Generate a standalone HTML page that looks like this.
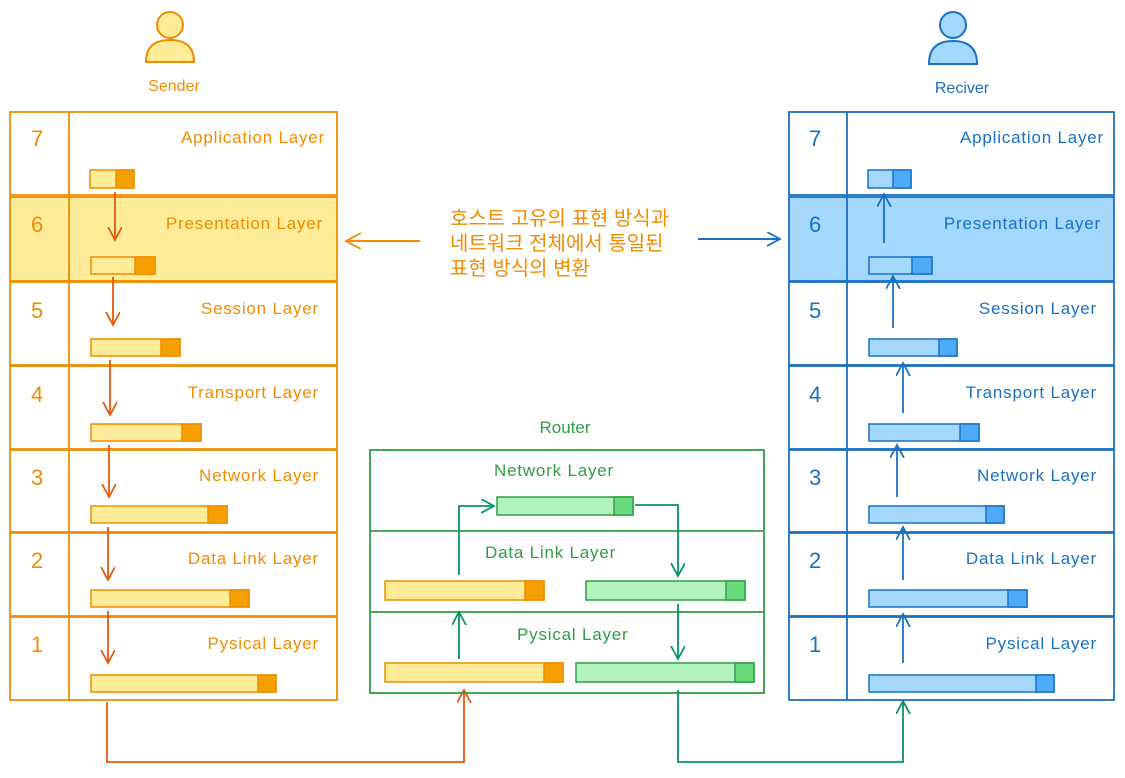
<!DOCTYPE html>
<html><head><meta charset="utf-8"><style>
html,body{margin:0;padding:0;background:#fff;}
svg text{font-family:"Liberation Sans","Noto Sans CJK KR",sans-serif;}
</style></head><body>
<svg width="1125" height="773" viewBox="0 0 1125 773" xmlns="http://www.w3.org/2000/svg">
<defs>
<marker id="ao" markerWidth="16" markerHeight="16" refX="13" refY="7" orient="auto" markerUnits="userSpaceOnUse"><path d="M0,0 L13,7 L0,14" fill="none" stroke="#e8590c" stroke-width="1.8"/></marker>
<marker id="ab" markerWidth="16" markerHeight="16" refX="13" refY="7" orient="auto" markerUnits="userSpaceOnUse"><path d="M0,0 L13,7 L0,14" fill="none" stroke="#1971c2" stroke-width="1.8"/></marker>
<marker id="ag" markerWidth="16" markerHeight="16" refX="13" refY="7" orient="auto" markerUnits="userSpaceOnUse"><path d="M0,0 L13,7 L0,14" fill="none" stroke="#099268" stroke-width="1.8"/></marker>
<marker id="aor" markerWidth="18" markerHeight="18" refX="15" refY="8" orient="auto" markerUnits="userSpaceOnUse"><path d="M0,0 L15,8 L0,16" fill="none" stroke="#f08c00" stroke-width="1.8"/></marker>
</defs>

<g fill="#ffec99" stroke="#f08c00" stroke-width="2">
<circle cx="170" cy="25" r="13"/>
<path d="M146,62 Q146,40 170,40 Q194,40 194,62 Z"/>
</g>
<text x="174" y="91" font-size="16" fill="#f08c00" text-anchor="middle">Sender</text>
<g fill="#a5d8ff" stroke="#1971c2" stroke-width="2">
<circle cx="953" cy="25" r="13"/>
<path d="M929,64 Q929,41 953,41 Q977,41 977,64 Z"/>
</g>
<text x="962" y="93" font-size="16" fill="#1971c2" text-anchor="middle">Reciver</text>

<g stroke="#f08c00" stroke-width="1.8" fill="none">
<rect x="10" y="112" width="327" height="83"/>
<rect x="10" y="197" width="327" height="84" fill="#ffec99"/>
<rect x="10" y="282" width="327" height="83"/>
<rect x="10" y="366" width="327" height="83"/>
<rect x="10" y="450" width="327" height="82"/>
<rect x="10" y="533" width="327" height="83"/>
<rect x="10" y="617" width="327" height="83"/>
<line x1="69" y1="112" x2="69" y2="700"/>
</g>
<g fill="#f08c00" font-size="22">
<text x="31" y="146">7</text><text x="31" y="232">6</text><text x="31" y="318">5</text>
<text x="31" y="402">4</text><text x="31" y="485">3</text><text x="31" y="568">2</text><text x="31" y="652">1</text>
</g>
<g fill="#f08c00" font-size="17" text-anchor="end" letter-spacing="0.8">
<text x="325" y="143">Application Layer</text>
<text x="323" y="229">Presentation Layer</text>
<text x="319" y="314">Session Layer</text>
<text x="319" y="398">Transport Layer</text>
<text x="319" y="481">Network Layer</text>
<text x="319" y="564">Data Link Layer</text>
<text x="319" y="649">Pysical Layer</text>
</g>
<g stroke="#f08c00" stroke-width="1.5">
<rect x="90" y="170" width="44" height="18" fill="#ffec99"/><rect x="116" y="170" width="18" height="18" fill="#f59f00"/>
<rect x="91" y="257" width="64" height="17" fill="#ffec99"/><rect x="135" y="257" width="20" height="17" fill="#f59f00"/>
<rect x="91" y="339" width="89" height="17" fill="#ffec99"/><rect x="161" y="339" width="19" height="17" fill="#f59f00"/>
<rect x="91" y="424" width="110" height="17" fill="#ffec99"/><rect x="182" y="424" width="19" height="17" fill="#f59f00"/>
<rect x="91" y="506" width="136" height="17" fill="#ffec99"/><rect x="208" y="506" width="19" height="17" fill="#f59f00"/>
<rect x="91" y="590" width="158" height="17" fill="#ffec99"/><rect x="230" y="590" width="19" height="17" fill="#f59f00"/>
<rect x="91" y="675" width="185" height="17" fill="#ffec99"/><rect x="258" y="675" width="18" height="17" fill="#f59f00"/>
</g>
<g stroke="#e8590c" stroke-width="1.8" fill="none" marker-end="url(#ao)">
<line x1="115" y1="192" x2="115" y2="240"/>
<line x1="113" y1="277" x2="113" y2="325"/>
<line x1="110" y1="360" x2="110" y2="415"/>
<line x1="109" y1="445" x2="109" y2="497"/>
<line x1="108" y1="527" x2="108" y2="580"/>
<line x1="108" y1="611" x2="108" y2="663"/>
<polyline points="107,702 107,762 464,762 464,690"/>
</g>

<g stroke="#1971c2" stroke-width="1.8" fill="none">
<rect x="789" y="112" width="325" height="83"/>
<rect x="789" y="197" width="325" height="84" fill="#a5d8ff"/>
<rect x="789" y="282" width="325" height="83"/>
<rect x="789" y="366" width="325" height="83"/>
<rect x="789" y="450" width="325" height="82"/>
<rect x="789" y="533" width="325" height="83"/>
<rect x="789" y="617" width="325" height="83"/>
<line x1="847" y1="112" x2="847" y2="700"/>
</g>
<g fill="#1971c2" font-size="22">
<text x="809" y="146">7</text><text x="809" y="232">6</text><text x="809" y="318">5</text>
<text x="809" y="402">4</text><text x="809" y="485">3</text><text x="809" y="568">2</text><text x="809" y="652">1</text>
</g>
<g fill="#1971c2" font-size="17" text-anchor="end" letter-spacing="0.8">
<text x="1104" y="143">Application Layer</text>
<text x="1101" y="229">Presentation Layer</text>
<text x="1097" y="314">Session Layer</text>
<text x="1097" y="398">Transport Layer</text>
<text x="1097" y="481">Network Layer</text>
<text x="1097" y="564">Data Link Layer</text>
<text x="1097" y="649">Pysical Layer</text>
</g>
<g stroke="#1971c2" stroke-width="1.5">
<rect x="868" y="170" width="43" height="18" fill="#a5d8ff"/><rect x="893" y="170" width="18" height="18" fill="#4dabf7"/>
<rect x="869" y="257" width="63" height="17" fill="#a5d8ff"/><rect x="912" y="257" width="20" height="17" fill="#4dabf7"/>
<rect x="869" y="339" width="88" height="17" fill="#a5d8ff"/><rect x="939" y="339" width="18" height="17" fill="#4dabf7"/>
<rect x="869" y="424" width="110" height="17" fill="#a5d8ff"/><rect x="960" y="424" width="19" height="17" fill="#4dabf7"/>
<rect x="869" y="506" width="135" height="17" fill="#a5d8ff"/><rect x="986" y="506" width="18" height="17" fill="#4dabf7"/>
<rect x="869" y="590" width="158" height="17" fill="#a5d8ff"/><rect x="1008" y="590" width="19" height="17" fill="#4dabf7"/>
<rect x="869" y="675" width="185" height="17" fill="#a5d8ff"/><rect x="1036" y="675" width="18" height="17" fill="#4dabf7"/>
</g>
<g stroke="#1971c2" stroke-width="1.8" marker-end="url(#ab)">
<line x1="884" y1="243" x2="884" y2="194"/>
<line x1="893" y1="328" x2="893" y2="276"/>
<line x1="903" y1="413" x2="903" y2="363"/>
<line x1="897" y1="497" x2="897" y2="445"/>
<line x1="903" y1="580" x2="903" y2="527"/>
<line x1="903" y1="663" x2="903" y2="614"/>
</g>

<text x="565" y="433" font-size="17" fill="#2f9e44" text-anchor="middle">Router</text>
<g stroke="#2f9e44" stroke-width="1.8" fill="none">
<rect x="370" y="450" width="394" height="243"/>
<line x1="370" y1="531" x2="764" y2="531"/>
<line x1="370" y1="612" x2="764" y2="612"/>
</g>
<g fill="#2f9e44" font-size="17" letter-spacing="0.8">
<text x="494" y="476">Network Layer</text>
<text x="485" y="558">Data Link Layer</text>
<text x="517" y="640">Pysical Layer</text>
</g>
<g stroke-width="1.5">
<rect x="497" y="497" width="136" height="18" fill="#b2f2bb" stroke="#2f9e44"/><rect x="614" y="497" width="19" height="18" fill="#69db7c" stroke="#2f9e44"/>
<rect x="385" y="581" width="159" height="19" fill="#ffec99" stroke="#f08c00"/><rect x="525" y="581" width="19" height="19" fill="#f59f00" stroke="#f08c00"/>
<rect x="586" y="581" width="159" height="19" fill="#b2f2bb" stroke="#2f9e44"/><rect x="726" y="581" width="19" height="19" fill="#69db7c" stroke="#2f9e44"/>
<rect x="385" y="663" width="178" height="19" fill="#ffec99" stroke="#f08c00"/><rect x="544" y="663" width="19" height="19" fill="#f59f00" stroke="#f08c00"/>
<rect x="576" y="663" width="178" height="19" fill="#b2f2bb" stroke="#2f9e44"/><rect x="735" y="663" width="19" height="19" fill="#69db7c" stroke="#2f9e44"/>
</g>
<g stroke="#099268" stroke-width="1.8" fill="none" marker-end="url(#ag)">
<polyline points="459,575 459,506 494,506"/>
<polyline points="635,505 678,505 678,576"/>
<line x1="459" y1="659" x2="459" y2="612"/>
<line x1="678" y1="604" x2="678" y2="659"/>
<polyline points="678,690 678,762 903,762 903,701"/>
</g>

<g fill="#f08c00" font-size="20">
<text x="450" y="225">호스트 고유의 표현 방식과</text>
<text x="450" y="250">네트워크 전체에서 통일된</text>
<text x="450" y="275">표현 방식의 변환</text>
</g>
<line x1="420" y1="241" x2="346" y2="241" stroke="#f08c00" stroke-width="2" marker-end="url(#aor)"/>
<line x1="698" y1="239" x2="780" y2="239" stroke="#1971c2" stroke-width="2" marker-end="url(#ab)"/>
</svg>
</body></html>
